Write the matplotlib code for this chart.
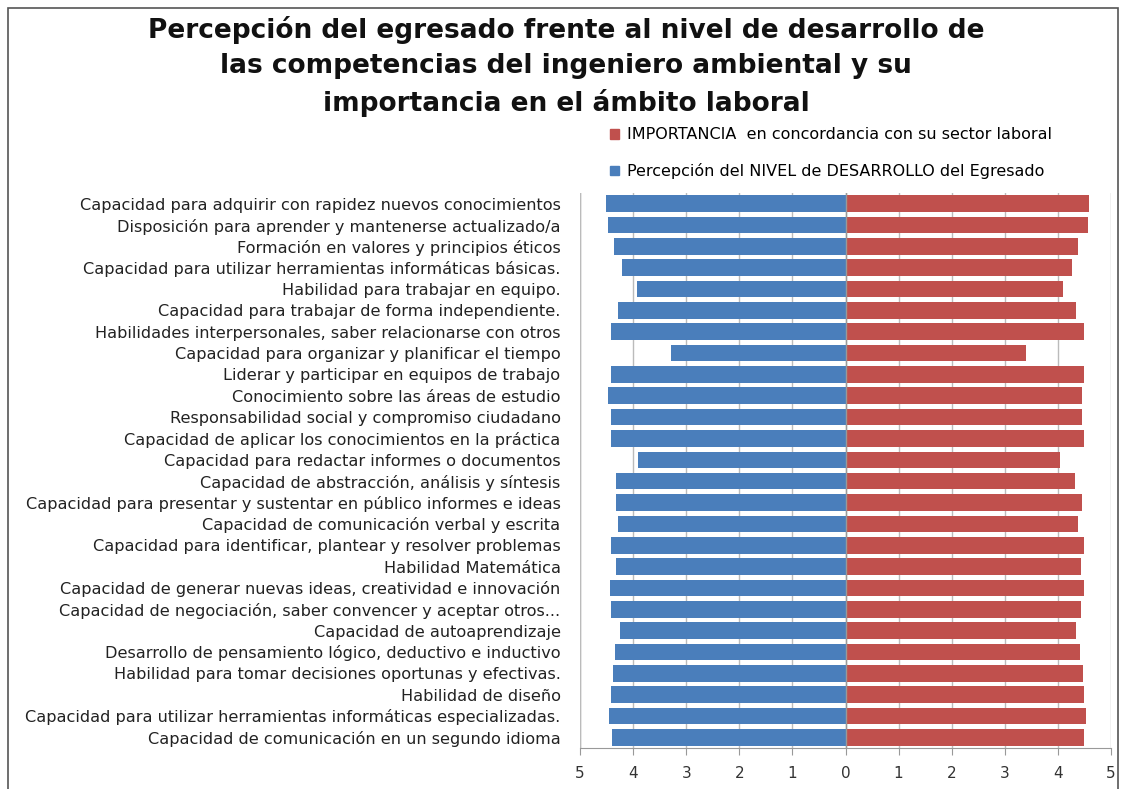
import matplotlib.pyplot as plt
from matplotlib.patches import Rectangle, Patch

# Competencias (de arriba hacia abajo)
competencias = [
    "Capacidad para adquirir con rapidez nuevos conocimientos",
    "Disposición para aprender y mantenerse actualizado/a",
    "Formación en valores y principios éticos",
    "Capacidad para utilizar herramientas informáticas básicas.",
    "Habilidad para trabajar en equipo.",
    "Capacidad para trabajar de forma independiente.",
    "Habilidades interpersonales, saber relacionarse con otros",
    "Capacidad para organizar y planificar el tiempo",
    "Liderar y participar en equipos de trabajo",
    "Conocimiento sobre las áreas de estudio",
    "Responsabilidad social y compromiso ciudadano",
    "Capacidad de aplicar los conocimientos en la práctica",
    "Capacidad para redactar informes o documentos",
    "Capacidad de abstracción, análisis y síntesis",
    "Capacidad para presentar y sustentar en público informes e ideas",
    "Capacidad de comunicación verbal y escrita",
    "Capacidad para identificar, plantear y resolver problemas",
    "Habilidad Matemática",
    "Capacidad de generar nuevas ideas, creatividad e innovación",
    "Capacidad de negociación, saber convencer y aceptar otros...",
    "Capacidad de autoaprendizaje",
    "Desarrollo de pensamiento lógico, deductivo e inductivo",
    "Habilidad para tomar decisiones oportunas y efectivas.",
    "Habilidad de diseño",
    "Capacidad para utilizar herramientas informáticas especializadas.",
    "Capacidad de comunicación en un segundo idioma",
]

nivel_desarrollo = [4.51, 4.47, 4.36, 4.21, 3.92, 4.29, 4.42, 3.28, 4.42, 4.48,
                    4.42, 4.42, 3.91, 4.32, 4.32, 4.28, 4.42, 4.32, 4.43, 4.42,
                    4.25, 4.34, 4.37, 4.42, 4.45, 4.40]
importancia = [4.59, 4.56, 4.38, 4.26, 4.09, 4.35, 4.49, 3.40, 4.49, 4.45,
               4.45, 4.49, 4.04, 4.33, 4.45, 4.38, 4.49, 4.43, 4.49, 4.44,
               4.35, 4.42, 4.47, 4.49, 4.53, 4.49]

ticks = [-5, -4, -3, -2, -1, 0, 1, 2, 3, 4, 5]

azul = "#4A7EBB"
rojo = "#C0504D"

W, H = 1121, 789
fig = plt.figure(figsize=(W / 100, H / 100), dpi=100)
ax = fig.add_axes([580 / W, 1 - 748 / H, (1111 - 580) / W, (748 - 193) / H])

y = list(range(len(competencias)))
ax.barh(y, [-v for v in nivel_desarrollo], height=0.78, color=azul, zorder=2)
ax.barh(y, importancia, height=0.78, color=rojo, zorder=2)

ax.set_xlim(-5, 5)
ax.set_ylim(len(competencias) - 0.5, -0.5)
ax.set_xticks(ticks)
ax.set_xticklabels([str(abs(t)) for t in ticks], fontsize=11, color="#333333")
ax.set_yticks(y)
ax.set_yticklabels(competencias, fontsize=11.6, color="#222222")
ax.tick_params(axis="y", length=0, pad=14)
ax.tick_params(axis="x", length=5, color="#999999", pad=8)
ax.grid(axis="x", color="#bbbbbb", linewidth=1, zorder=0)
for s in ["top", "right", "left"]:
    ax.spines[s].set_visible(False)
ax.spines["bottom"].set_color("#999999")
ax.axvline(0, color="#999999", linewidth=1, zorder=3)
ax.axvline(-5, color="#bbbbbb", linewidth=1, zorder=1)

fig.text(566 / W, 1 - 16 / H,
         "Percepción del egresado frente al nivel de desarrollo de\n"
         "las competencias del ingeniero ambiental y su\n"
         "importancia en el ámbito laboral",
         ha="center", va="top", fontsize=19, fontweight="bold",
         linespacing=1.45, color="#111111")

handles = [Patch(color=rojo), Patch(color=azul)]
fig.legend(handles,
           ["IMPORTANCIA  en concordancia con su sector laboral",
            "Percepción del NIVEL de DESARROLLO del Egresado"],
           loc="upper left", bbox_to_anchor=(604 / W, 1 - 121 / H),
           frameon=False, fontsize=11.5, handlelength=0.55, handleheight=0.55,
           handletextpad=0.5, labelspacing=1.3, borderaxespad=0)

fig.add_artist(Rectangle((8 / W, -0.1), (1118 - 8) / W, 1.1 - 8 / H,
                         transform=fig.transFigure, fill=False,
                         edgecolor="#555555", linewidth=1.2))

fig.savefig("out.png", dpi=100)
